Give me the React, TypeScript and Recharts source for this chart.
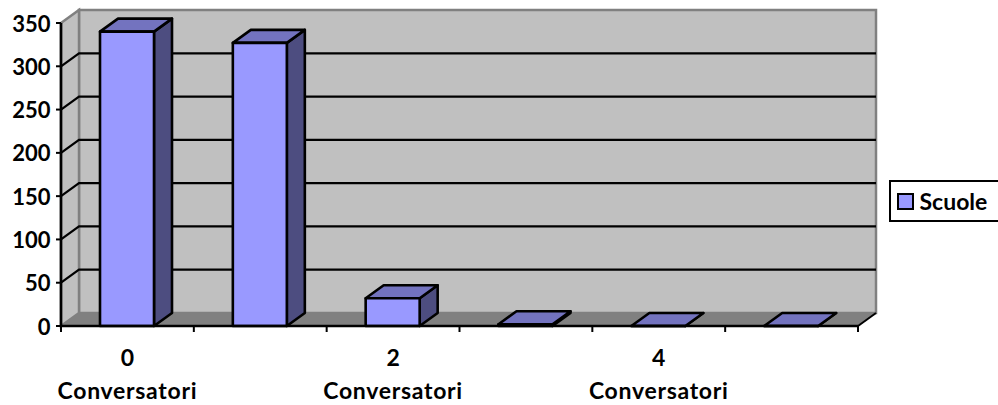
import { BarChart, Bar, XAxis, YAxis, CartesianGrid, Legend, usePlotArea } from "recharts";

const categories = ["0", "1", "2", "3", "4", "5"];
const scuole = [340, 327, 32, 2, 0, 0];
const yTicks = [0, 50, 100, 150, 200, 250, 300, 350];
const seriesName = "Scuole";
const xUnit = "Conversatori";

const data = categories.map((c, i) => ({ name: c, [seriesName]: scuole[i] }));

const DX = 18;
const DY = -13;
const FONT = "Lato, 'Open Sans', sans-serif";

function Walls() {
  const p = usePlotArea();
  if (!p) return null;
  const l = p.x;
  const r = p.x + p.width;
  const t = p.y;
  const b = p.y + p.height;
  return (
    <g>
      <rect x={l + DX} y={t + DY} width={r - l} height={b - t} fill="#c0c0c0" stroke="#808080" strokeWidth={2.5} />
      <polygon
        points={`${l},${t} ${l + DX},${t + DY} ${l + DX},${b + DY} ${l},${b}`}
        fill="#c0c0c0"
        stroke="#808080"
        strokeWidth={2.5}
      />
      <polygon
        points={`${l},${b} ${l + DX},${b + DY} ${r + DX},${b + DY} ${r},${b}`}
        fill="#808080"
        stroke="#808080"
        strokeWidth={1}
      />
      <line x1={r} y1={b} x2={r + DX} y2={b + DY} stroke="#000" strokeWidth={2} />
    </g>
  );
}

// grid line that runs up the side wall and then along the back wall
function GridLine(props: any) {
  const { x1, x2, y1, index } = props;
  if (y1 === undefined || y1 <= 23.5 || y1 >= 325.5) return null;
  return (
    <polyline
      key={index}
      points={`${x1},${y1} ${x1 + DX},${y1 + DY} ${x2 + DX},${y1 + DY}`}
      fill="none"
      stroke="#000"
      strokeWidth={2.2}
    />
  );
}

function Bar3D(props: any) {
  const { x, y, width, height, fill } = props;
  const front = `${x},${y} ${x + width},${y} ${x + width},${y + height} ${x},${y + height}`;
  const side = `${x + width},${y} ${x + width + DX},${y + DY} ${x + width + DX},${y + height + DY} ${x + width},${y + height}`;
  const top = `${x},${y} ${x + DX},${y + DY} ${x + width + DX},${y + DY} ${x + width},${y}`;
  return (
    <g stroke="#000" strokeWidth={2.6} strokeLinejoin="round">
      <polygon points={side} fill="#4d4d80" />
      <polygon points={top} fill="#7373bf" />
      <polygon points={front} fill={fill} />
    </g>
  );
}

function XTick(props: any) {
  const { x, y, index, payload, width } = props;
  const band = width / categories.length;
  const axisY = y - 8;
  return (
    <g>
      <line x1={x - band / 2} y1={axisY} x2={x - band / 2} y2={axisY + 6} stroke="#000" strokeWidth={2} />
      {index === categories.length - 1 && (
        <line x1={x + band / 2} y1={axisY} x2={x + band / 2} y2={axisY + 6} stroke="#000" strokeWidth={2} />
      )}
      {index % 2 === 0 && (
        <g fontFamily={FONT} fontWeight={700} fontSize={23} fill="#000" textAnchor="middle">
          <text x={x} y={axisY + 40}>{payload.value}</text>
          <text x={x} y={axisY + 73} letterSpacing={0.7}>{xUnit}</text>
        </g>
      )}
    </g>
  );
}

function YTick(props: any) {
  const { x, y, payload } = props;
  const axisX = x + 8;
  return (
    <g>
      <line x1={axisX - 5} y1={y} x2={axisX} y2={y} stroke="#000" strokeWidth={2} />
      <text x={axisX - 10.5} y={y + 8.5} textAnchor="end" fontFamily={FONT} fontWeight={700} fontSize={22} fill="#000">
        {payload.value}
      </text>
    </g>
  );
}

function LegendBox(props: any) {
  const item = props.payload?.[0];
  return (
    <div
      style={{
        border: "2.5px solid #000",
        boxSizing: "border-box",
        height: 42,
        width: 115,
        display: "flex",
        alignItems: "center",
        background: "#fff",
        fontFamily: FONT,
        fontWeight: 700,
        fontSize: 23,
        color: "#000",
      }}
    >
      <span style={{ width: 13, height: 13, border: "2.5px solid #000", background: item?.color, marginLeft: 5.5, marginRight: 6 }} />
      {item?.value}
    </div>
  );
}

export default function App() {
  return (
    <div style={{ position: "absolute", left: 0, top: 0, width: 998, height: 405, background: "#fff", overflow: "hidden" }}>
      <BarChart
        width={998}
        height={405}
        data={data}
        margin={{ top: 23, right: 31, bottom: 0, left: 0 }}
        barSize={54}
      >
        <Walls />
        <CartesianGrid vertical={false} horizontal={<GridLine />} zIndex={1} />
        <XAxis
          dataKey="name"
          height={79}
          interval={0}
          axisLine={{ stroke: "#000", strokeWidth: 2.6 }}
          tickLine={false}
          tick={<XTick />}
        />
        <YAxis
          width={61}
          domain={[0, 350]}
          ticks={yTicks}
          interval={0}
          axisLine={{ stroke: "#000", strokeWidth: 2.6 }}
          tickLine={false}
          tick={<YTick />}
        />
        <Legend
          layout="vertical"
          align="right"
          verticalAlign="middle"
          content={<LegendBox />}
          wrapperStyle={{ left: 889, right: "auto", top: 180, width: 109, height: 42 }}
        />
        <Bar dataKey={seriesName} fill="#9999ff" shape={<Bar3D />} isAnimationActive={false} />
      </BarChart>
    </div>
  );
}
